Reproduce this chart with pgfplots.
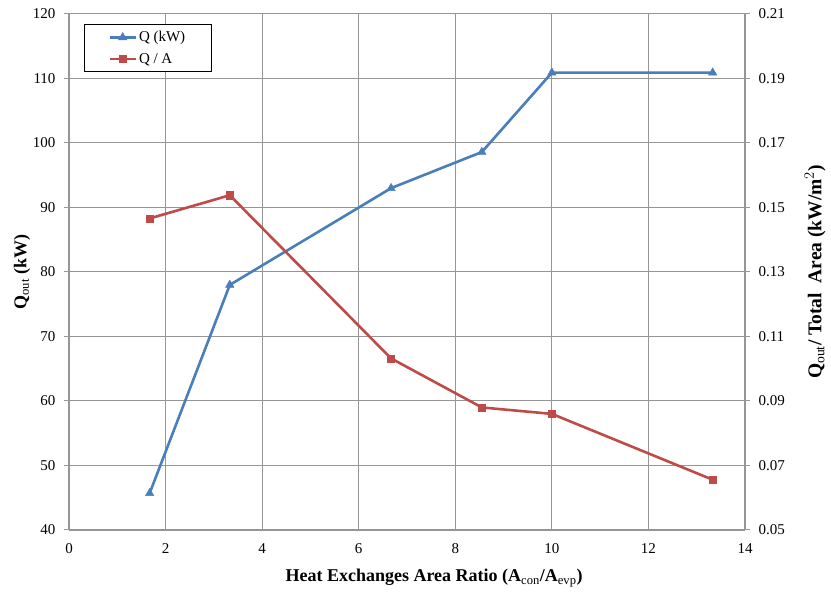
\documentclass[border=0pt]{standalone}
\usepackage{pgfplots}
\pgfplotsset{compat=1.18}
\usepackage{fontspec}
\setmainfont{Liberation Serif}
\definecolor{qblue}{RGB}{74,126,187}
\definecolor{qred}{RGB}{190,75,72}
\definecolor{gridc}{RGB}{150,150,150}
\begin{document}
\begin{tikzpicture}
\pgfplotsset{
  every axis/.append style={
    width=676pt, height=516pt, scale only axis,
    xmin=0, xmax=14,
    /pgf/number format/assume math mode=true,
    tick label style={font=\fontsize{15}{17}\selectfont},
    label style={font=\fontsize{18}{20}\selectfont\bfseries},
    tick align=outside,
    major tick length=5pt,
    axis line style={gridc, line width=1.6pt},
    every tick/.style={gridc, line width=1pt},
  }
}
\begin{axis}[
  name=ax,
  ymin=40, ymax=120, ytick={40,50,...,120},
  xtick={0,2,...,14},
  x tick style={draw=none},
  grid=major,
  grid style={gridc, line width=1pt},
  xlabel={Heat Exchanges Area Ratio (A$_{\mathrm{con}}$/A$_{\mathrm{evp}}$)},
  ylabel={Q$_{\mathrm{out}}$ (kW)},
  xlabel style={at={(axis description cs:0.54,-0.093)}, anchor=center},
  ylabel style={at={(axis description cs:-0.0695,0.5)}, anchor=center},
  yticklabel style={xshift=-5pt},
  xticklabel style={yshift=-5pt},
  axis y line*=left,
  axis x line*=bottom,
  legend style={at={(rel axis cs:0,1)}, anchor=north west, xshift=15pt, yshift=-10pt,
    draw=black, line width=0.8pt, font=\fontsize{15}{17}\selectfont,
    inner xsep=24pt, inner ysep=5pt, row sep=6pt,
    /tikz/every even column/.append style={column sep=1pt}},
  legend cell align=left,
  legend image code/.code={
    \draw[#1, line width=2.4pt] (0pt,0pt) -- (26pt,0pt);
    \draw[#1, mark repeat=2, mark phase=2] plot coordinates {(0pt,0pt) (13pt,0pt) (26pt,0pt)};
  },
]
\addplot[qblue, line width=2.6pt, mark=triangle*, mark size=4.8pt, mark options={solid, line width=0.5pt}]
  coordinates {(1.67,45.7) (3.33,78) (6.67,93) (8.55,98.6) (10,110.9) (13.33,110.9)};
\addlegendentry{Q (kW)}
\addlegendimage{qred, line width=2.6pt, mark=square*, mark size=3.6pt, mark options={solid, line width=0.5pt}}
\addlegendentry{Q / A}
\end{axis}
\begin{axis}[
  ymin=0.05, ymax=0.21, ytick={0.05,0.07,...,0.21},
  yticklabel style={/pgf/number format/fixed, /pgf/number format/fixed zerofill, /pgf/number format/precision=2, xshift=5pt},
  axis y line*=right,
  axis x line=none,
  ylabel={Q$_{\mathrm{out}}$/ Total\ \ Area (kW/m$^{2}$)},
  ylabel style={at={(axis description cs:1.1036,0.5)}, anchor=center, font=\fontsize{19.5}{21}\selectfont\bfseries},
]
\addplot[qred, line width=2.6pt, mark=square*, mark size=3.6pt, mark options={solid, line width=0.5pt}]
  coordinates {(1.67,0.1466) (3.33,0.1538) (6.67,0.1032) (8.55,0.0880) (10,0.0860) (13.33,0.0656)};
\end{axis}
\path (ax.south west) ++(-69pt,-63pt) coordinate (bl);
\path (ax.north east) ++(86pt,14pt) coordinate (tr);
\path (bl) (tr);
\end{tikzpicture}
\end{document}
